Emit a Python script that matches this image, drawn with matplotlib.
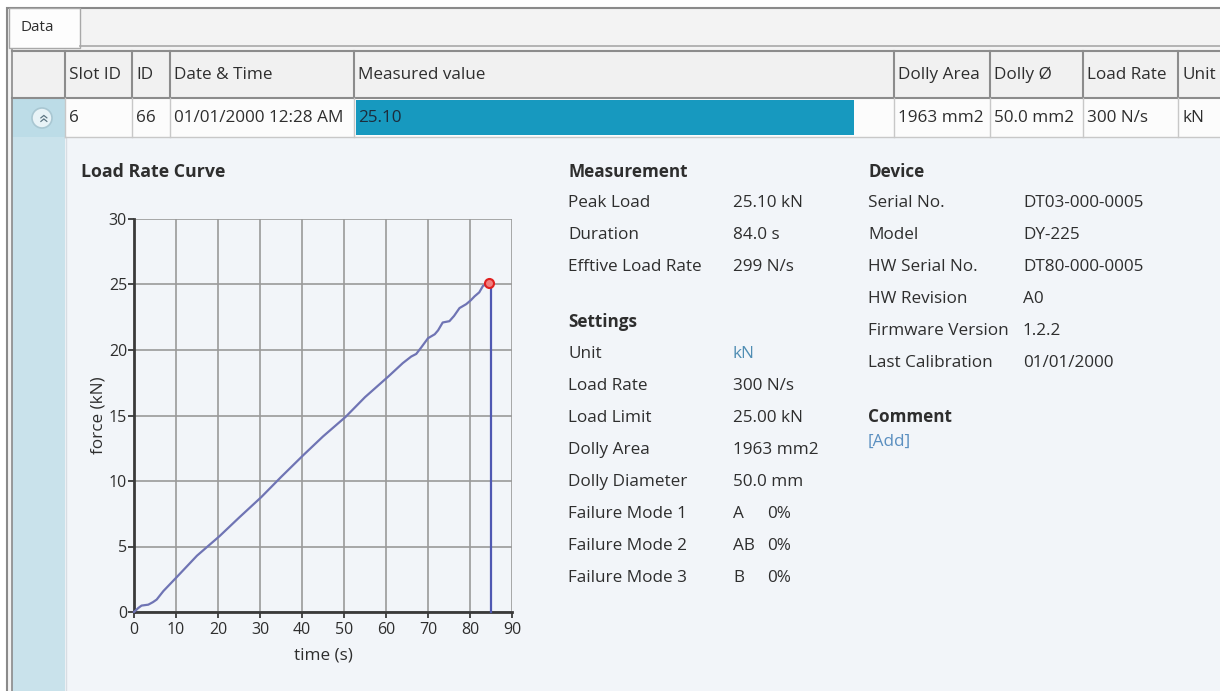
import matplotlib
matplotlib.use("Agg")
from matplotlib import pyplot as plt
from matplotlib.patches import Rectangle, Circle

plt.rcParams['font.family'] = ['Open Sans', 'DejaVu Sans']

# load rate curve
time_s = [0, 1.0, 1.8, 3.4, 4.5, 5.4, 7.0, 10.4, 15.0, 20.4, 25.0, 30.3, 35.0,
          40.3, 45.0, 50.4, 55.0, 60.6, 64.0, 66.0, 67.2, 68.4, 70.0, 71.6,
          72.4, 73.5, 75.1, 76.2, 77.5, 79.1, 80.2, 81.1, 82.2, 83.1, 84.6]
force_kn = [0, 0.3, 0.49, 0.56, 0.75, 0.95, 1.6, 2.74, 4.3, 5.8, 7.2, 8.77, 10.3,
            11.97, 13.4, 14.9, 16.4, 17.99, 19.0, 19.5, 19.7, 20.2, 20.9, 21.2,
            21.5, 22.1, 22.2, 22.6, 23.2, 23.5, 23.8, 24.1, 24.4, 24.9, 25.1]
drop_t = 85.0
peak_t, peak_f = 84.6, 25.1
x_ticks = [0, 10, 20, 30, 40, 50, 60, 70, 80, 90]
y_ticks = [0, 5, 10, 15, 20, 25, 30]

# table
col_names = ["", "Slot ID", "ID", "Date & Time", "Measured value",
             "Dolly Area", "Dolly Ø", "Load Rate", "Unit"]
row_values = ["", "6", "66", "01/01/2000 12:28 AM", "25.10",
              "1963 mm2", "50.0 mm2", "300 N/s", "kN"]

meas_labels = ["Peak Load", "Duration", "Efftive Load Rate"]
meas_values = ["25.10 kN", "84.0 s", "299 N/s"]
set_labels = ["Unit", "Load Rate", "Load Limit", "Dolly Area", "Dolly Diameter",
              "Failure Mode 1", "Failure Mode 2", "Failure Mode 3"]
set_values = ["kN", "300 N/s", "25.00 kN", "1963 mm2", "50.0 mm", "A", "AB", "B"]
set_pct = ["", "", "", "", "", "0%", "0%", "0%"]
dev_labels = ["Serial No.", "Model", "HW Serial No.", "HW Revision",
              "Firmware Version", "Last Calibration"]
dev_values = ["DT03-000-0005", "DY-225", "DT80-000-0005", "A0", "1.2.2", "01/01/2000"]

W, H = 1220, 691
fig = plt.figure(figsize=(W / 100, H / 100), dpi=100)
fig.patch.set_facecolor("white")

bg = fig.add_axes([0, 0, 1, 1])
bg.set_xlim(0, W)
bg.set_ylim(H, 0)
bg.axis("off")

txt = "#2e2e2e"
fs = 12.3

# window frame and tab strip
bg.add_patch(Rectangle((7, 8), W, H, facecolor="#f3f3f3", edgecolor="#8a8a8a", lw=1.5))
bg.add_patch(Rectangle((9, 8), 71, 40, facecolor="#fdfdfd", edgecolor="#a8a8a8", lw=1))
bg.plot([80, W], [46, 46], color="#a8a8a8", lw=1.2)
bg.text(20, 27, "Data", fontsize=11, color=txt, va="center")

# detail panel + left strip
bg.add_patch(Rectangle((12, 50), W, H, facecolor="#f2f5f9", edgecolor="none"))
bg.add_patch(Rectangle((12, 98), 53, H, facecolor="#c9e2eb", edgecolor="none"))
bg.plot([12, 12], [50, H], color="#8a8a8a", lw=1.2)
bg.plot([66, 66], [137, H], color="#d8dde3", lw=1)

# table grid
col_x = [12, 65, 132, 170, 354, 894, 990, 1083, 1178, 1240]
bg.add_patch(Rectangle((12, 51), W, 47, facecolor="#f1f1f1", edgecolor="none"))
bg.add_patch(Rectangle((65, 98), W, 39, facecolor="#fcfcfc", edgecolor="none"))
bg.add_patch(Rectangle((12, 98), 53, 39, facecolor="#bcdce7", edgecolor="none"))
bg.plot([12, W], [51, 51], color="#8c8c8c", lw=1.5)
bg.plot([12, W], [98, 98], color="#8c8c8c", lw=1.5)
bg.plot([65, W], [137, 137], color="#c8c8c8", lw=1)
for x in col_x[1:-1]:
    bg.plot([x, x], [51, 98], color="#8c8c8c", lw=1.5)
    bg.plot([x, x], [98, 137], color="#c8c8c8", lw=1)

# measured value bar
bg.add_patch(Rectangle((356, 100), 498, 35, facecolor="#1799bf", edgecolor="none"))

for i in range(1, len(col_names)):
    bg.text(col_x[i] + 4, 75, col_names[i], fontsize=fs, color=txt, va="center")
    bg.text(col_x[i] + 4, 118, row_values[i], fontsize=fs,
            color="#1c2c3c" if i == 4 else txt, va="center")

# expand icon
bg.add_patch(Circle((42, 118), 10, facecolor="#e8f3f7", edgecolor="#a9c7d2", lw=1.2))
bg.text(42, 117, "«", fontsize=13, color="#5a7380", rotation=-90,
        ha="center", va="center")

# chart title
bg.text(81, 172, "Load Rate Curve", fontsize=12.8, fontweight="bold", color=txt, va="center")

# measurement / settings block
row_h = 32
bg.text(568, 172, "Measurement", fontsize=fs, fontweight="bold", color=txt, va="center")
for i, (l, v) in enumerate(zip(meas_labels, meas_values)):
    y = 203 + i * row_h
    bg.text(568, y, l, fontsize=fs, color=txt, va="center")
    bg.text(733, y, v, fontsize=fs, color=txt, va="center")

bg.text(568, 322, "Settings", fontsize=fs, fontweight="bold", color=txt, va="center")
for i, (l, v, p) in enumerate(zip(set_labels, set_values, set_pct)):
    y = 354 + i * row_h
    bg.text(568, y, l, fontsize=fs, color=txt, va="center")
    bg.text(733, y, v, fontsize=fs, color="#4f8db3" if l == "Unit" else txt, va="center")
    if p:
        bg.text(767, y, p, fontsize=fs, color=txt, va="center")

# device block
bg.text(868, 172, "Device", fontsize=fs, fontweight="bold", color=txt, va="center")
for i, (l, v) in enumerate(zip(dev_labels, dev_values)):
    y = 203 + i * row_h
    bg.text(868, y, l, fontsize=fs, color=txt, va="center")
    bg.text(1023, y, v, fontsize=fs, color=txt, va="center")
bg.text(868, 417, "Comment", fontsize=fs, fontweight="bold", color=txt, va="center")
bg.text(868, 442, "[Add]", fontsize=fs, color="#5b8fc0", va="center")

# the chart
ax = fig.add_axes([134 / W, (H - 612) / H, (512 - 134) / W, (612 - 219) / H])
ax.patch.set_alpha(0)
ax.plot(time_s, force_kn, color="#6f74b4", lw=1.6, clip_on=False, zorder=3)
ax.plot([peak_t, drop_t, drop_t], [peak_f, peak_f, 0], color="#4f58b2", lw=1.6,
        clip_on=False, zorder=3)
ax.plot([peak_t], [peak_f], marker="o", ms=6.5, mfc="#f08080", mec="#e02020", mew=1.5,
        clip_on=False, zorder=4)
ax.set_xlim(0, 90)
ax.set_ylim(0, 30)
ax.set_xticks(x_ticks)
ax.set_yticks(y_ticks)
ax.grid(True, color="#9a9a9a", lw=1.2)
ax.set_axisbelow(True)
for s in ["top", "right"]:
    ax.spines[s].set_visible(False)
for s in ["left", "bottom"]:
    ax.spines[s].set_color("#3a3a3a")
    ax.spines[s].set_linewidth(2)
ax.tick_params(direction="out", length=4, width=1.3, color="#3a3a3a",
               labelsize=11.5, labelcolor=txt)
ax.tick_params(axis="x", pad=3)
ax.tick_params(axis="y", pad=1)
ax.set_xlabel("time (s)", fontsize=12.3, color=txt, labelpad=7)
ax.set_ylabel("force (kN)", fontsize=12.3, color=txt, labelpad=2)

fig.savefig("out.png", dpi=100)
